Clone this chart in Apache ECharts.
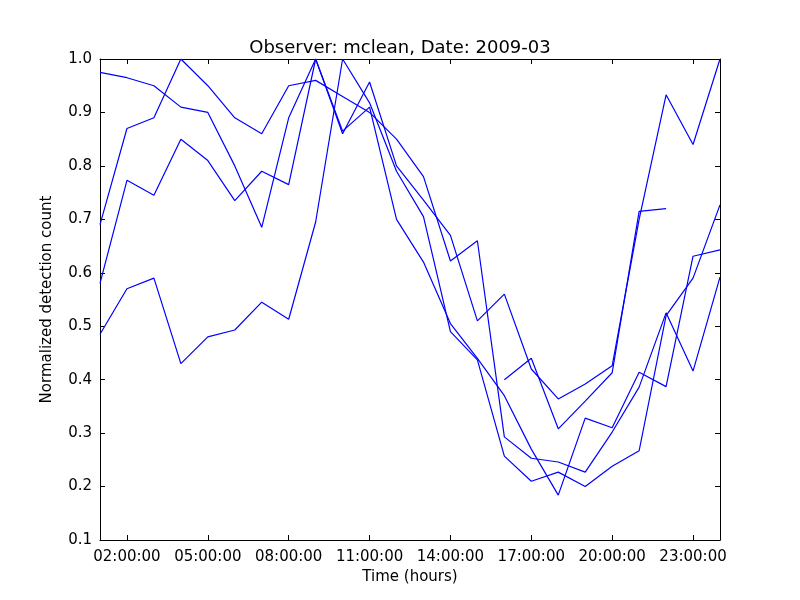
<!DOCTYPE html>
<html lang="en">
  <head>
    <meta charset="UTF-8" />
    <title>echarts</title>
    <style>
      body { margin: 0; background: #fff; }
      #main { width: 800px; height: 600px; }
    </style>
  </head>
  <body>
    <div id="main"></div>
    <script src="https://cdn.jsdelivr.net/npm/echarts@6/dist/echarts.min.js"></script>
    <script>
      const myChart = echarts.init(document.getElementById('main'))
      // hours 01:00 .. 24:00
      var hours = []
      for (let h = 1; h <= 24; h++) {
        hours.push((h < 10 ? '0' + h : '' + h) + ':00:00')
      }
      var run1 = [0.975, 0.965, 0.95, 0.91, 0.90, 0.80, 0.685, 0.89, 1.0, 0.86, 0.957, 0.80, 0.736, 0.67, 0.51, 0.56, 0.42, 0.364, 0.392, 0.426, 0.70, 0.933, 0.84, 1.0]
      var run2 = [0.69, 0.87, 0.89, 1.0, 0.95, 0.89, 0.86, 0.95, 0.96, 0.93, 0.90, 0.85, 0.78, 0.622, 0.66, 0.293, 0.253, 0.246, 0.227, 0.302, 0.386, 0.525, 0.416, 0.592]
      var run3 = [0.58, 0.773, 0.745, 0.85, 0.81, 0.735, 0.79, 0.765, 1.0, 0.865, 0.91, 0.70, 0.62, 0.505, 0.44, 0.37, 0.27, 0.184, 0.328, 0.31, 0.414, 0.387, 0.631, 0.643]
      var run4 = [0.485, 0.57, 0.59, 0.43, 0.48, 0.493, 0.545, 0.513, 0.695, 1.0, 0.918, 0.79, 0.705, 0.49, 0.437, 0.257, 0.21, 0.227, 0.20, 0.238, 0.267, 0.52, 0.59, 0.727]
      var run5 = [null, null, null, null, null, null, null, null, null, null, null, null, null, null, null, 0.40, 0.44, 0.308, 0.36, 0.413, 0.715, 0.72, null, null]
      var runs = [run1, run2, run3, run4, run5]

      var font = 'DejaVu Sans'
      var showTick = function (i) { return i % 3 === 1 }

      var xBase = {
        type: 'category',
        data: hours,
        boundaryGap: false,
        axisLine: { lineStyle: { color: '#000', width: 1 } },
        axisTick: { inside: true, length: 5, interval: showTick, lineStyle: { color: '#000' } },
        splitLine: { show: false }
      }
      var yBase = {
        type: 'value',
        min: 0.1,
        max: 1.0,
        interval: 0.1,
        axisLine: { show: true, lineStyle: { color: '#000', width: 1 } },
        axisTick: { show: true, inside: true, length: 5, lineStyle: { color: '#000' } },
        splitLine: { show: false }
      }

      option = {
        backgroundColor: '#fff',
        animation: false,
        title: {
          text: 'Observer: mclean, Date: 2009-03',
          left: 'center',
          top: 34,
          textStyle: { fontFamily: font, fontWeight: 'normal', fontSize: 18, color: '#000' }
        },
        grid: { left: 100, right: 80, top: 59, bottom: 60 },
        xAxis: [
          Object.assign({}, xBase, {
            position: 'bottom',
            name: 'Time (hours)',
            nameLocation: 'middle',
            nameGap: 30,
            nameTextStyle: { fontFamily: font, fontSize: 15, color: '#000' },
            axisLabel: { interval: showTick, fontFamily: font, fontSize: 15, color: '#000', margin: 10 }
          }),
          Object.assign({}, xBase, { position: 'top', axisLabel: { show: false } })
        ],
        yAxis: [
          Object.assign({}, yBase, {
            position: 'left',
            name: 'Normalized detection count',
            nameLocation: 'middle',
            nameGap: 45,
            nameTextStyle: { fontFamily: font, fontSize: 15, color: '#000' },
            axisLabel: {
              fontFamily: font, fontSize: 15, color: '#000', margin: 8,
              formatter: function (v) { return v.toFixed(1) }
            }
          }),
          Object.assign({}, yBase, { position: 'right', axisLabel: { show: false } })
        ],
        series: runs.map(function (d) {
          return {
            type: 'line',
            data: d,
            showSymbol: false,
            connectNulls: false,
            lineStyle: { color: '#0000ff', width: 1.2 },
            itemStyle: { color: '#0000ff' }
          }
        })
      }

      myChart.setOption(option)
    </script>
  </body>
</html>
